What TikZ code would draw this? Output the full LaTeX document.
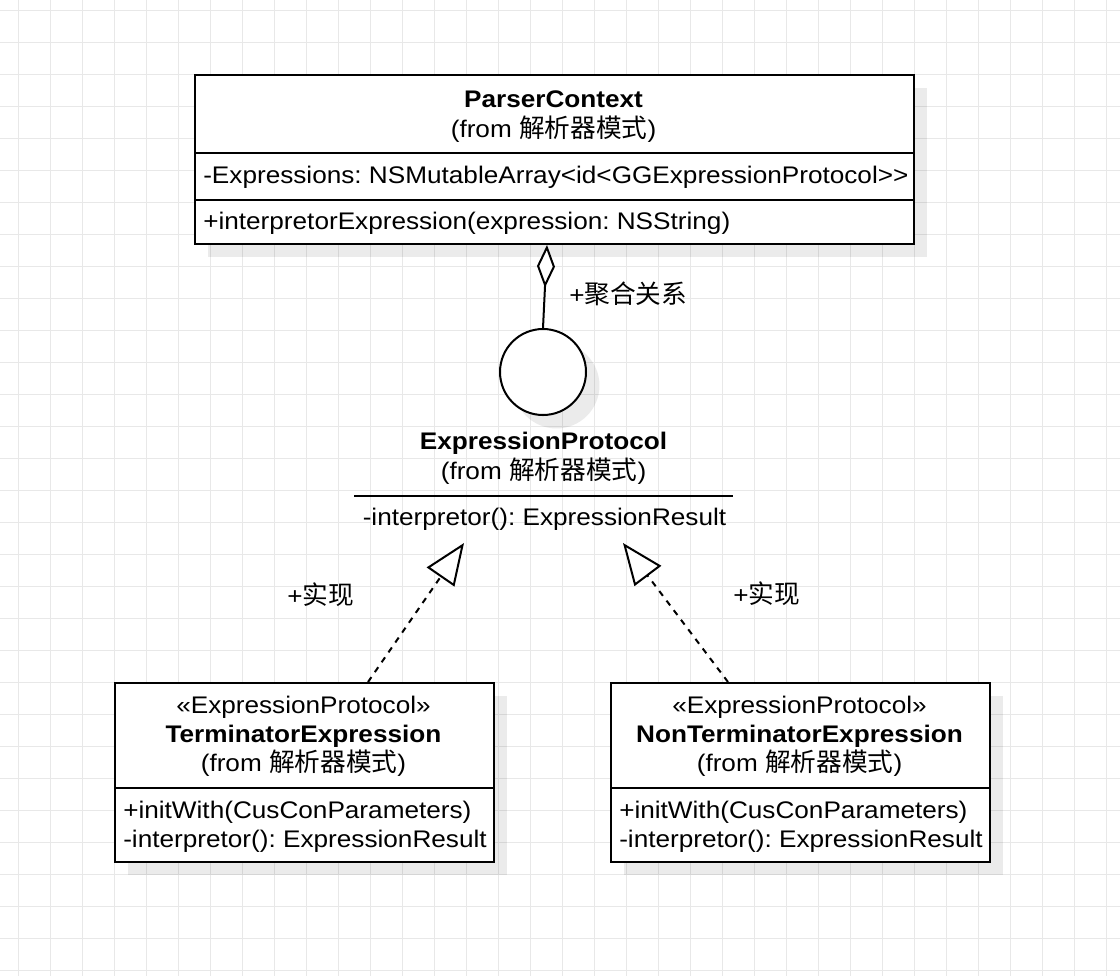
\documentclass[tikz,border=0pt]{standalone}
\usepackage{fontspec}
\setmainfont{Liberation Sans}[FakeStretch=1.09]
\newfontfamily\cjk{Noto Sans CJK SC}[Scale=1.07]
\usetikzlibrary{arrows.meta,shadows,calc}
\definecolor{gridc}{RGB}{232,232,232}
\newcommand\fromtxt{(from {\cjk 解析器模式})}
\frenchspacing
\begin{document}
\begin{tikzpicture}[x=0.75pt,y=-0.75pt,
  font=\fontsize{18}{22}\selectfont,
  gridline/.style={draw=gridc, line width=0.75pt},
  shad/.style={drop shadow={shadow xshift=10.1pt, shadow yshift=-10.1pt, fill=black, opacity=0.08}},
  umlbox/.style={draw, line width=1.5pt, fill=white, inner sep=0pt, anchor=north west, shad},
  sep/.style={line width=1.5pt},
  txt/.style={inner sep=0pt, anchor=base},
  mem/.style={inner sep=0pt, anchor=base west},
  lbl/.style={inner sep=0pt, anchor=west},
  realize/.style={line width=1.5pt, dash pattern=on 4.5pt off 4.5pt,
    -{Triangle[open, fill=white, length=31pt, width=25pt]}},
  aggr/.style={line width=1.5pt, -{Diamond[open, fill=white, length=32pt, width=13.5pt]}}
]
\fill[white] (0,0) rectangle (1120,976);
\useasboundingbox (0,0) rectangle (1120,976);
\foreach \i in {0,...,34} \draw[gridline] ({18+32*\i},0) -- ({18+32*\i},976);
\foreach \j in {0,...,30} \draw[gridline] (0,{10+32*\j}) -- (1120,{10+32*\j});

% ParserContext
\node[umlbox, minimum width=539.25pt, minimum height=126.75pt] (pc) at (194,74) {};
\draw[sep] ($(pc.north west)+(0,79)$) -- ($(pc.north east)+(0,79)$);
\draw[sep] ($(pc.north west)+(0,126)$) -- ($(pc.north east)+(0,126)$);
\node[txt, font=\fontsize{18}{22}\selectfont\bfseries] (pct) at (553.5,107) {ParserContext};
\node[txt] (pcf) at (553.5,137) {\fromtxt};
\node[mem] (pca) at (203,183.5) {-Expressions: NSMutableArray<id<GGExpressionProtocol>{}>};
\node[mem] (pcm) at (203,229.5) {+interpretorExpression(expression: NSString)};

% ExpressionProtocol (interface)
\node[circle, draw, line width=1.5pt, fill=white, minimum size=64.5pt, inner sep=0pt, shad] (circ) at (543,372) {};
\coordinate (aggend) at ($(pc.south west)+(353,0)$);
\draw[aggr] (circ.north) -- (aggend);
\node[lbl] (agl) at (569,293.5) {+{\cjk 聚合关系}};
\node[txt, font=\fontsize{18}{22}\selectfont\bfseries] (ept) at (543.5,449) {ExpressionProtocol};
\node[txt] (epf) at (543.5,479) {\fromtxt};
\coordinate (epl1) at (354,496);
\coordinate (epl2) at (733,496);
\draw[sep] (epl1) -- (epl2);
\node[txt] (epm) at (544.5,525) {-interpretor(): ExpressionResult};

% TerminatorExpression
\node[umlbox, minimum width=284.25pt, minimum height=134.25pt] (term) at (114,682) {};
\draw[sep] ($(term.north west)+(0,106)$) -- ($(term.north east)+(0,106)$);
\node[txt] (tst) at (303.5,713) {«ExpressionProtocol»};
\node[txt, font=\fontsize{18}{22}\selectfont\bfseries] (tnm) at (303.5,742) {TerminatorExpression};
\node[txt] (tfr) at (303.5,771) {\fromtxt};
\node[mem] (tm1) at (123,818) {+initWith(CusConParameters)};
\node[mem] (tm2) at (123,847) {-interpretor(): ExpressionResult};

% NonTerminatorExpression
\node[umlbox, minimum width=284.25pt, minimum height=134.25pt] (nont) at (610,682) {};
\draw[sep] ($(nont.north west)+(0,106)$) -- ($(nont.north east)+(0,106)$);
\node[txt] (nst) at (799.5,713) {«ExpressionProtocol»};
\node[txt, font=\fontsize{18}{22}\selectfont\bfseries] (nnm) at (799.5,742) {NonTerminatorExpression};
\node[txt] (nfr) at (799.5,771) {\fromtxt};
\node[mem] (nm1) at (619,818) {+initWith(CusConParameters)};
\node[mem] (nm2) at (619,847) {-interpretor(): ExpressionResult};

% realizations
\coordinate (t1s) at ($(term.north west)+(254,0)$);
\coordinate (t1e) at (464,543);
\coordinate (t2s) at ($(nont.north west)+(118,0)$);
\coordinate (t2e) at (623,543);
\draw[realize] (t1s) -- (t1e);
\draw[realize] (t2s) -- (t2e);
\node[lbl] (r1) at (287,594.5) {+{\cjk 实现}};
\node[lbl] (r2) at (733,594) {+{\cjk 实现}};
\end{tikzpicture}
\end{document}
